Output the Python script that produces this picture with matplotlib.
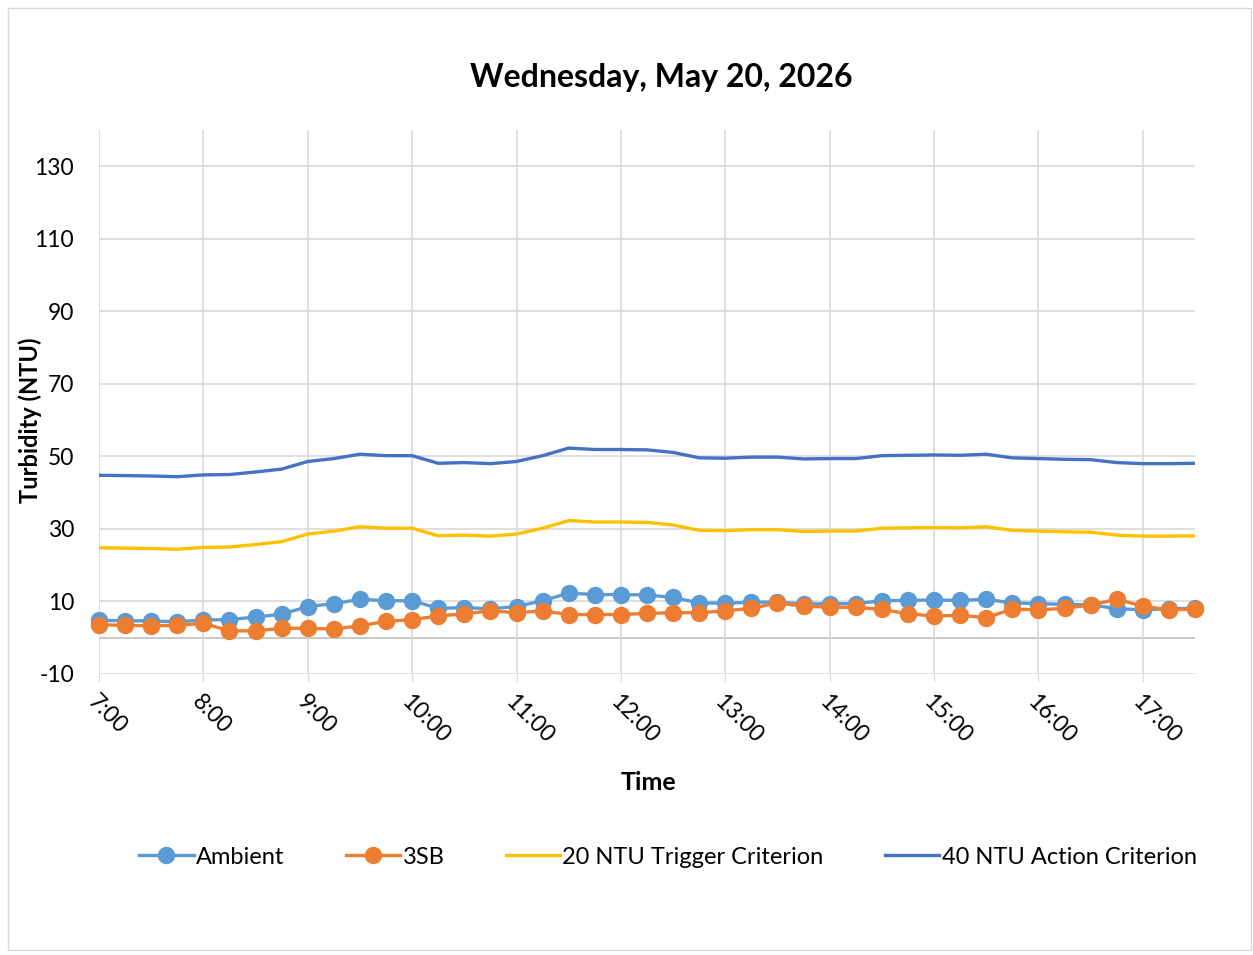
import matplotlib
matplotlib.use("Agg")
import matplotlib.pyplot as plt
from matplotlib.patches import Rectangle
from matplotlib.lines import Line2D

# 15-minute readings, 7:00 to 17:30
times = [f"{h}:{m:02d}" for h in range(7, 18) for m in (0, 15, 30, 45)][:43]
hour_labels = [f"{h}:00" for h in range(7, 18)]

ambient = [4.8, 4.7, 4.6, 4.4, 4.9, 5.0, 5.7, 6.5, 8.6, 9.4, 10.6, 10.2, 10.2, 8.1, 8.3,
           8.0, 8.6, 10.2, 12.3, 11.9, 11.9, 11.8, 11.1, 9.6, 9.5, 9.8, 9.8, 9.3, 9.4, 9.4,
           10.2, 10.3, 10.4, 10.3, 10.6, 9.6, 9.4, 9.2, 9.1, 8.0, 7.7, 8.0, 8.1]
site_3sb = [3.6, 3.4, 3.3, 3.4, 4.0, 1.9, 1.9, 2.6, 2.6, 2.4, 3.3, 4.5, 5.0, 6.0, 6.6,
            7.4, 6.9, 7.4, 6.4, 6.4, 6.4, 6.7, 6.9, 6.9, 7.4, 8.1, 9.6, 8.7, 8.4, 8.4,
            7.8, 6.6, 6.0, 6.2, 5.5, 7.9, 7.7, 8.1, 9.0, 10.6, 8.7, 7.7, 7.9]
trigger = [24.8, 24.7, 24.6, 24.4, 24.9, 25.0, 25.7, 26.5, 28.6, 29.4, 30.6, 30.2, 30.2,
           28.1, 28.3, 28.0, 28.6, 30.2, 32.3, 31.9, 31.9, 31.8, 31.1, 29.6, 29.5, 29.8,
           29.8, 29.3, 29.4, 29.4, 30.2, 30.3, 30.4, 30.3, 30.6, 29.6, 29.4, 29.2, 29.1,
           28.3, 28.0, 28.0, 28.1]
action = [44.8, 44.7, 44.6, 44.4, 44.9, 45.0, 45.7, 46.5, 48.6, 49.4, 50.6, 50.2, 50.2,
          48.1, 48.3, 48.0, 48.6, 50.2, 52.3, 51.9, 51.9, 51.8, 51.1, 49.6, 49.5, 49.8,
          49.8, 49.3, 49.4, 49.4, 50.2, 50.3, 50.4, 50.3, 50.6, 49.6, 49.4, 49.2, 49.1,
          48.3, 48.0, 48.0, 48.1]

plt.rcParams['font.family'] = ['Lato', 'DejaVu Sans']
plt.rcParams['axes.unicode_minus'] = False

fig = plt.figure(figsize=(12.53, 9.55), dpi=100)
fig.patches.append(Rectangle((8 / 1253, 5 / 955), 1 - 10 / 1253, 1 - 13 / 955,
                             transform=fig.transFigure, fill=False,
                             edgecolor='#D9D9D9', linewidth=1))

ax = fig.add_axes([99 / 1253, 1 - 674 / 955, (1195 - 99) / 1253, (674 - 130) / 955])
x = list(range(len(times)))

ax.plot(x, action, color='#4472C4', lw=2.4, zorder=3, label='40 NTU Action Criterion')
ax.plot(x, trigger, color='#FFC000', lw=2.4, zorder=3, label='20 NTU Trigger Criterion')
ax.plot(x, ambient, color='#5B9BD5', lw=2.4, marker='o', ms=11.5, zorder=4,
        clip_on=False, label='Ambient')
ax.plot(x, site_3sb, color='#ED7D31', lw=2.4, marker='o', ms=11.5, zorder=5,
        clip_on=False, label='3SB')

ax.set_xlim(0, 42)
ax.set_ylim(-10, 140)
ax.set_yticks(range(-10, 131, 20))
ax.set_xticks(range(0, 43, 4))
ax.set_xticklabels(hour_labels, rotation=-45, ha='left', va='top', fontsize=16.5,
                   rotation_mode='anchor')
ax.tick_params(axis='y', length=0, labelsize=16.5, pad=18)
ax.tick_params(axis='x', length=6, color='#D9D9D9', pad=6)

for s in ax.spines.values():
    s.set_visible(False)
ax.grid(True, color='#D9D9D9', lw=1.2, zorder=0)
ax.axhline(0, color='#BFBFBF', lw=1.2, zorder=1)

fig.text(661 / 1253, 1 - 78 / 955, 'Wednesday, May 20, 2026', ha='center', va='center',
         fontsize=23, fontweight='bold')
fig.text(30 / 1253, 1 - 420 / 955, 'Turbidity (NTU)', rotation=90, ha='center',
         va='center', fontsize=17, fontweight='bold')
fig.text(648 / 1253, 1 - 782 / 955, 'Time', ha='center', va='center', fontsize=18,
         fontweight='bold')

handles = [
    Line2D([], [], color='#5B9BD5', lw=2.4, marker='o', ms=11.5),
    Line2D([], [], color='#ED7D31', lw=2.4, marker='o', ms=11.5),
    Line2D([], [], color='#FFC000', lw=2.4),
    Line2D([], [], color='#4472C4', lw=2.4),
]
fig.legend(handles, ['Ambient', '3SB', '20 NTU Trigger Criterion', '40 NTU Action Criterion'],
           loc='center', bbox_to_anchor=(668 / 1253, 1 - 857 / 955), ncol=4, frameon=False,
           fontsize=17, handlelength=2.3, handletextpad=0.1, columnspacing=2.6)

fig.savefig('out.png', dpi=100)
